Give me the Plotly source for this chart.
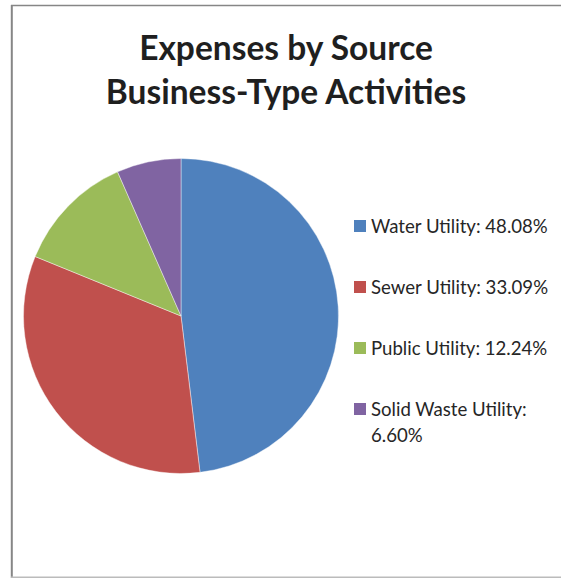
import plotly.graph_objects as go

# Expense shares by business-type activity (percent of total)
categories = ["Water Utility", "Sewer Utility", "Public Utility", "Solid Waste Utility"]
shares = [48.08, 33.09, 12.24, 6.60]
colors = ["#4F81BD", "#C0504D", "#9BBB59", "#8064A2"]

title_lines = ["Expenses by Source", "Business-Type Activities"]

W, H = 561, 578


def px_x(x):
    return x / W


def px_y(y):
    return 1 - y / H


fig = go.Figure(
    go.Pie(
        labels=categories,
        values=shares,
        sort=False,
        direction="clockwise",
        rotation=0,
        textinfo="none",
        hoverinfo="label+percent",
        marker=dict(colors=colors, line=dict(color="rgba(255,255,255,0.7)", width=0.6)),
        domain=dict(x=[px_x(23.5), px_x(338.5)], y=[px_y(473.5), px_y(158.5)]),
        showlegend=False,
    )
)

# Frame around the chart area
shapes = [
    dict(type="line", xref="paper", yref="paper", x0=px_x(11.8), x1=px_x(11.8),
         y0=px_y(5), y1=px_y(578), line=dict(color="#868686", width=2)),
    dict(type="line", xref="paper", yref="paper", x0=px_x(11), x1=1,
         y0=px_y(5.5), y1=px_y(5.5), line=dict(color="#868686", width=1.5)),
    dict(type="line", xref="paper", yref="paper", x0=px_x(11), x1=1,
         y0=px_y(577.2), y1=px_y(577.2), line=dict(color="#BBBBBB", width=1.6)),
]

annotations = []

# Legend: colour key squares with "name: value%" labels
legend_font = dict(family="Lato, Open Sans, sans-serif", size=18.6, color="#262626")
row_y = [226, 287, 348, 409]
line_gap = 25.5
for name, val, col, yc in zip(categories, shares, colors, row_y):
    shapes.append(dict(type="rect", xref="paper", yref="paper",
                       x0=px_x(354), x1=px_x(366), y0=px_y(yc + 6), y1=px_y(yc - 6),
                       fillcolor=col, line=dict(width=0)))
    label = f"{name}: {val:.2f}%"
    lines = [label] if len(label) <= 22 else [f"{name}:", f"{val:.2f}%"]
    for i, txt in enumerate(lines):
        annotations.append(dict(
            text=txt, xref="paper", yref="paper", x=px_x(369), y=px_y(yc + i * line_gap),
            xanchor="left", yanchor="middle", showarrow=False, font=legend_font,
        ))

fig.update_layout(
    width=W,
    height=H,
    margin=dict(l=0, r=0, t=0, b=0),
    paper_bgcolor="white",
    plot_bgcolor="white",
    title=dict(
        text="<br>".join(title_lines),
        x=px_x(286), xanchor="center",
        y=px_y(60), yanchor="top",
        font=dict(family="Lato, Open Sans, sans-serif", size=33.5, color="#1F1F1F", weight="bold"),
    ),
    shapes=shapes,
    annotations=annotations,
)

fig.write_html("out.html")
